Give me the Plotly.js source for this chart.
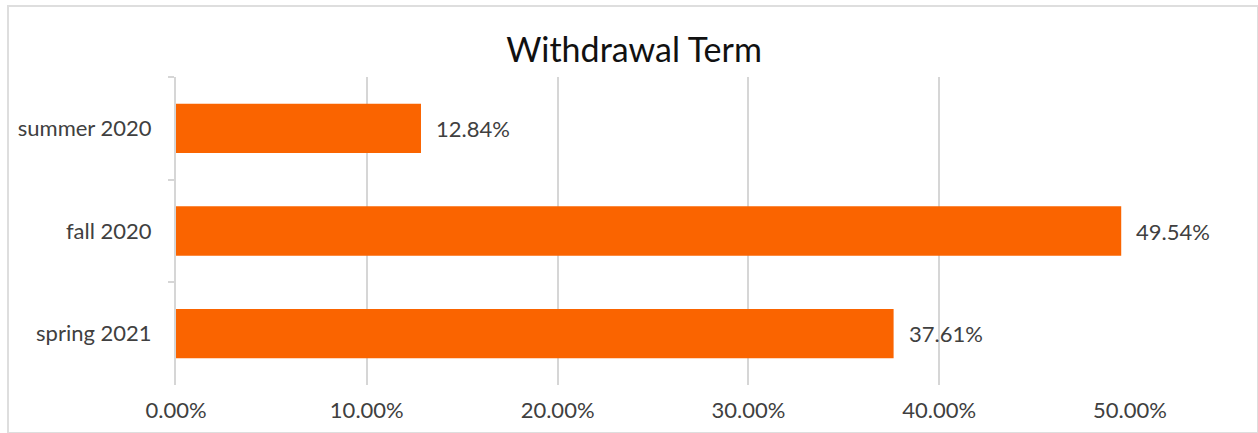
<!DOCTYPE html>
<html>
<head>
<meta charset="utf-8">
<script src="https://cdn.plot.ly/plotly-3.0.1.min.js"></script>
<style>
html,body{margin:0;padding:0;background:#fff;}
#wrap{position:relative;width:1258px;height:433px;}
#chart{width:1258px;height:433px;}
#frame{position:absolute;left:7px;top:5px;width:1248px;height:425px;border:2px solid #dedede;pointer-events:none;}
</style>
</head>
<body>
<div id="wrap"><div id="chart"></div><div id="frame"></div></div>
<script>
var categories = ["summer 2020", "fall 2020", "spring 2021"];
var values = [0.1284, 0.4954, 0.3761];
var labels = ["12.84%", "49.54%", "37.61%"];
var tickVals = [0, 0.1, 0.2, 0.3, 0.4, 0.5];
var tickText = ["0.00%", "10.00%", "20.00%", "30.00%", "40.00%", "50.00%"];

var fontFam = "Lato, 'Open Sans', sans-serif";
var txtColor = "#404040";

var trace = {
  type: "bar",
  orientation: "h",
  y: categories,
  x: values,
  marker: {color: "#fa6400"},
  width: 0.48,
  hoverinfo: "none"
};

var annotations = categories.map(function(c, i){
  return {x: values[i], y: c, xref: "x", yref: "y", text: labels[i],
    showarrow: false, xanchor: "left", xshift: 13,
    font: {family: fontFam, size: 22, color: txtColor}};
});

var layout = {
  width: 1258, height: 433,
  margin: {l: 176, r: 128, t: 77, b: 48},
  paper_bgcolor: "rgba(0,0,0,0)",
  plot_bgcolor: "#fff",
  showlegend: false,
  title: {text: "Withdrawal Term", x: 0.504, xanchor: "center", y: 0.885, yanchor: "middle",
    font: {family: fontFam, size: 34, color: "#111"}},
  xaxis: {range: [0, 0.5], tickvals: tickVals, ticktext: tickText,
    showgrid: true, gridcolor: "#d6d6d6", gridwidth: 2,
    zeroline: false, showline: false, ticks: "",
    tickfont: {family: fontFam, size: 22, color: txtColor}, ticklabelstandoff: 10,
    fixedrange: true},
  yaxis: {autorange: "reversed", showline: true, linecolor: "#d6d6d6", linewidth: 2,
    ticks: "outside", ticklen: 6, tickcolor: "#d6d6d6", tickwidth: 2,
    tickson: "boundaries", showgrid: false,
    tickfont: {family: fontFam, size: 22, color: txtColor}, ticklabelstandoff: 18,
    fixedrange: true},
  annotations: annotations
};

Plotly.newPlot("chart", [trace], layout, {displayModeBar: false, staticPlot: true});
</script>
</body>
</html>
